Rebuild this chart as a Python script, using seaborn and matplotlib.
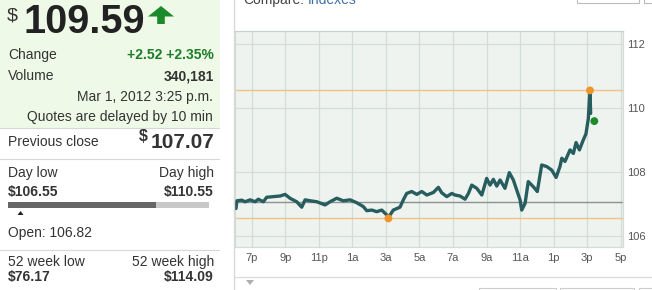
import matplotlib
matplotlib.use("Agg")
import matplotlib.pyplot as plt
import seaborn as sns
import pandas as pd
from matplotlib.patches import Rectangle, Polygon
from matplotlib.lines import Line2D

# ---------------- data ----------------
# hours since midnight of Feb 29 (24 = 12a Mar 1)
hours = [18.06, 18.11, 18.40, 18.60, 18.90, 19.20, 19.39, 19.69, 19.89, 20.29,
         20.69, 20.99, 21.28, 21.68, 21.98, 22.18, 22.48, 22.88, 23.37, 23.67,
         24.07, 24.46, 24.86, 25.26, 25.65, 25.86, 26.16, 26.45, 26.75, 27.05,
         27.15, 27.44, 27.84, 28.04, 28.24, 28.54, 28.84, 29.14, 29.44, 29.83,
         30.13, 30.33, 30.63, 30.93, 31.12, 31.42, 31.72, 31.92, 32.12, 32.42,
         32.72, 33.01, 33.21, 33.41, 33.61, 33.81, 34.10, 34.36, 34.60, 34.80,
         35.00, 35.10, 35.30, 35.49, 35.79, 36.03, 36.29, 36.59, 36.89, 37.15,
         37.38, 37.49, 37.68, 37.98, 38.18, 38.34, 38.54, 38.77, 38.93, 39.07,
         39.17, 39.21]
prices = [106.86, 107.10, 107.12, 107.07, 107.13, 107.07, 107.15, 107.07, 107.21, 107.23,
          107.25, 107.30, 107.18, 107.07, 106.90, 107.13, 107.10, 107.07, 106.97, 107.07,
          107.18, 107.10, 107.13, 107.04, 106.92, 106.79, 106.81, 106.76, 106.81, 106.66,
          106.58, 106.81, 106.90, 107.13, 107.33, 107.39, 107.30, 107.39, 107.28, 107.36,
          107.52, 107.35, 107.23, 107.33, 107.28, 107.25, 107.15, 107.33, 107.59, 107.49,
          107.28, 107.80, 107.59, 107.77, 107.56, 107.75, 107.49, 107.98, 107.75, 107.44,
          107.13, 106.81, 107.02, 107.70, 107.54, 107.39, 108.22, 108.17, 108.06, 107.83,
          108.17, 108.43, 108.33, 108.69, 108.58, 108.92, 108.69, 109.00, 109.19, 109.66,
          110.55, 109.83]

prev_close = 107.07
day_low, day_high = 106.55, 110.55
low_time, high_time = 27.15, 39.17
last_time, last_price = 39.43, 109.59

x_ticks = [19, 21, 23, 25, 27, 29, 31, 33, 35, 37, 39, 41]
x_labels = ["7p", "9p", "11p", "1a", "3a", "5a", "7a", "9a", "11a", "1p", "3p", "5p"]
y_ticks = [106, 108, 110, 112]

# ---------------- style ----------------
sns.set_style("white")
plt.rcParams["font.family"] = ["Liberation Sans", "DejaVu Sans"]

W, H = 652, 290
fig = plt.figure(figsize=(W / 100, H / 100), dpi=100)
fig.patch.set_facecolor("white")

DARK = "#333333"
GREEN = "#1d7d2a"


def T(x, y, s, **kw):
    kw.setdefault("va", "center")
    kw.setdefault("color", DARK)
    kw.setdefault("fontsize", 10)
    return fig.text(x / W, 1 - y / H, s, **kw)


def R(x, y, w, h, **kw):
    fig.add_artist(Rectangle((x / W, 1 - (y + h) / H), w / W, h / H,
                             transform=fig.transFigure, **kw))


def L(x1, y1, x2, y2, **kw):
    fig.add_artist(Line2D([x1 / W, x2 / W], [1 - y1 / H, 1 - y2 / H],
                          transform=fig.transFigure, **kw))


def P(pts, **kw):
    fig.add_artist(Polygon([(x / W, 1 - y / H) for x, y in pts],
                           transform=fig.transFigure, **kw))


# ---------------- left panel ----------------
R(0, 0, 220, 128, facecolor="#eefae7", edgecolor="none")
T(7, 16, "$", fontsize=14)
T(23.5, 22, "109.59", fontsize=28.6, fontweight="bold", color="#222222")
P([(161, 6), (174, 16.5), (164.8, 16.5), (164.8, 24), (157.2, 24), (157.2, 16.5), (148, 16.5)],
  facecolor="#1a8a2a", edgecolor="none")

T(8, 55, "Change")
T(214, 55, "+2.52 +2.35%", ha="right", fontweight="bold", color=GREEN)
T(8, 76, "Volume")
T(214, 76, "340,181", ha="right", fontweight="bold")
T(213, 97, "Mar 1, 2012 3:25 p.m.", ha="right")
T(213, 117, "Quotes are delayed by 10 min", ha="right")

L(0, 128.5, 219, 128.5, color="#d6d6d6", lw=0.8)
T(8, 142, "Previous close")
T(148, 137, "$", ha="right", fontsize=11.5, fontweight="bold")
T(214, 143, "107.07", ha="right", fontsize=15, fontweight="bold")
L(0, 158.5, 219, 158.5, color="#d6d6d6", lw=0.8)

T(8, 172.5, "Day low")
T(214, 172.5, "Day high", ha="right")
T(8, 192, "$106.55", fontweight="bold")
T(214, 192, "$110.55", ha="right", fontweight="bold")
R(8, 202.3, 148, 6, facecolor="#666666", edgecolor="none")
R(156, 202.3, 53, 6, facecolor="#c8c8c8", edgecolor="none")
P([(17.5, 215), (23.5, 215), (20.5, 211)], facecolor="#222222", edgecolor="none")
T(8, 232.5, "Open: 106.82")
L(0, 249.5, 219, 249.5, color="#d6d6d6", lw=0.8)
T(8, 262, "52 week low")
T(214, 262, "52 week high", ha="right")
T(8, 277, "$76.17", fontweight="bold")
T(214, 277, "$114.09", ha="right", fontweight="bold")

# ---------------- right panel frame ----------------
L(234.5, 0, 234.5, 290, color="#d9d9d9", lw=1)
cmp_txt = fig.text(243 / W, 1 - 4 / H, "Compare:", fontsize=10, color="#444444", va="baseline")
fig.canvas.draw()
bb = cmp_txt.get_window_extent(renderer=fig.canvas.get_renderer())
fig.text((bb.x1 + 4) / W, 1 - 4 / H, "Indexes", fontsize=10, color="#3f6fa8", va="baseline")
R(577, -3, 62, 5.5, facecolor="white", edgecolor="#bbbbbb", lw=0.8)
R(644, -3, 12, 5.5, facecolor="white", edgecolor="#bbbbbb", lw=0.8)
L(235, 276.5, 652, 276.5, color="#dddddd", lw=1)
P([(246, 280), (254, 280), (250, 285)], facecolor="#a9b0b4", edgecolor="none")
R(479, 288, 77, 6, facecolor="white", edgecolor="#cccccc", lw=0.8)
R(560, 288, 74, 6, facecolor="white", edgecolor="#cccccc", lw=0.8)
R(639, 288, 20, 6, facecolor="white", edgecolor="#cccccc", lw=0.8)

# ---------------- chart ----------------
ax = fig.add_axes([235 / W, (H - 247) / H, 388 / W, 216 / H])
ax.set_facecolor("#eef3f0")
ax.set_xlim(18.0, 41.14)
ax.set_ylim(105.656, 112.406)

ax.set_xticks(x_ticks)
ax.set_xticklabels(x_labels)
ax.set_yticks(y_ticks)
ax.set_yticklabels([str(v) for v in y_ticks])
ax.grid(True, color="#d3dcd7", lw=0.9)
ax.set_axisbelow(True)
ax.yaxis.tick_right()
ax.tick_params(axis="y", length=0, pad=3, labelsize=8, labelcolor="#555555")
ax.tick_params(axis="x", length=0, pad=4.5, labelsize=8, labelcolor="#555555")
for s in ax.spines.values():
    s.set_color("#d3dcd7")
    s.set_linewidth(0.9)
ax.spines["top"].set_color("#c9d1cd")

ax.axhline(prev_close, color="#8c9290", lw=1, zorder=1.5)
ax.axhline(day_high, color="#f2c283", lw=1, zorder=1.5)
ax.axhline(day_low, color="#f2c283", lw=1, zorder=1.5)

df = pd.DataFrame({"hour": hours, "price": prices})
sns.lineplot(data=df, x="hour", y="price", ax=ax, color="#285d5f", lw=2.4,
             sort=False, estimator=None, zorder=3)

marks = pd.DataFrame({"hour": [high_time, low_time], "price": [day_high, day_low]})
sns.scatterplot(data=marks, x="hour", y="price", ax=ax, color="#ee962c", s=32,
                edgecolor="none", zorder=4)
sns.scatterplot(x=[last_time], y=[last_price], ax=ax, color="#1b8a2b", s=32,
                edgecolor="none", zorder=4)
ax.set_xlabel("")
ax.set_ylabel("")

fig.savefig("out.png", dpi=100)
